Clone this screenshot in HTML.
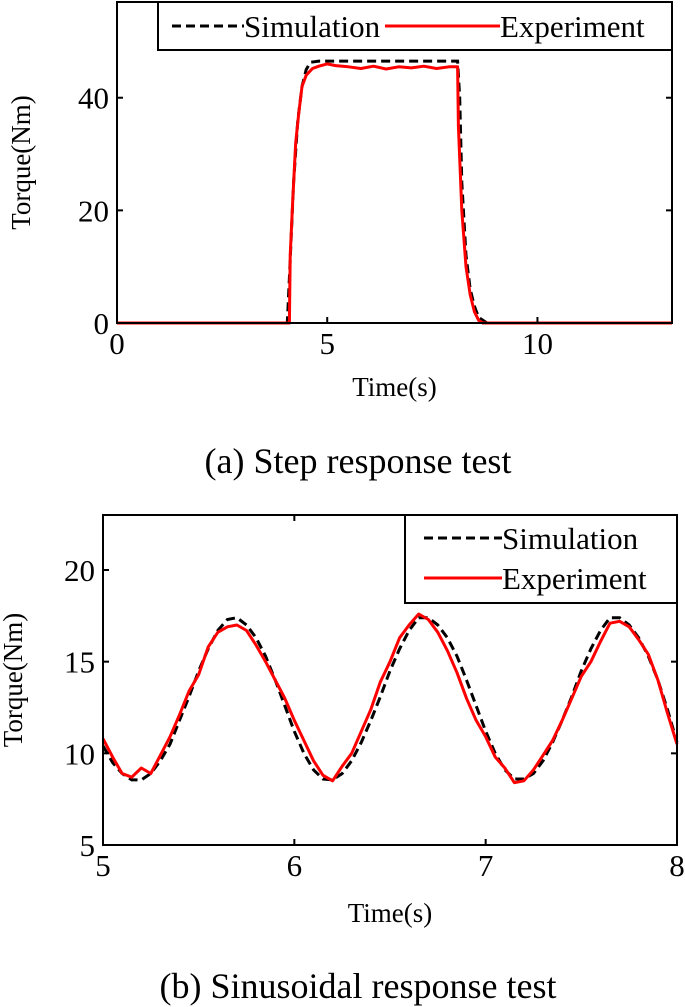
<!DOCTYPE html>
<html><head><meta charset="utf-8">
<style>
html,body{margin:0;padding:0;background:#fff;}
svg{display:block;font-family:"Liberation Serif",serif;}
</style></head>
<body>
<svg id="fig" width="685" height="1007" viewBox="0 0 685 1007">
<g id="top"></g>
<g id="bot"></g>
<text x="358" y="473" font-size="36" text-anchor="middle">(a) Step response test</text>
<text x="358" y="998" font-size="36" text-anchor="middle">(b) Sinusoidal response test</text>
</svg>
<script>
// Step response data
const stepSimT = [0,4.05,4.1,4.2,4.3,4.4,4.5,4.6,4.8,8.0,8.1,8.15,8.2,8.3,8.4,8.5,8.6,8.8,13.2];
const stepSimV = [0,0,8,25,36,42,45,46.3,46.5,46.5,46.5,40,25,12,6,3,1,0,0];
const stepExpT = [0,4.1,4.12,4.18,4.25,4.32,4.4,4.5,4.65,4.8,5.0,5.2,5.5,5.8,6.1,6.4,6.7,7.0,7.3,7.6,7.9,8.1,8.12,8.2,8.3,8.4,8.5,8.6,8.7,13.2];
const stepExpV = [0,0,12,22,32,37,42,44,45.2,45.6,46,45.7,45.5,45.2,45.6,45.1,45.5,45.3,45.6,45.2,45.5,45.5,35,20,10,5,2,0.5,0,0];
const stepXTicks = [0,5,10];
const stepYTicks = [0,20,40];
// Sinusoidal data
const sinT = [5.00,5.05,5.10,5.15,5.20,5.25,5.30,5.35,5.40,5.45,5.50,5.55,5.60,5.65,5.70,5.75,5.80,5.85,5.90,5.95,6.00,6.05,6.10,6.15,6.20,6.25,6.30,6.35,6.40,6.45,6.50,6.55,6.60,6.65,6.70,6.75,6.80,6.85,6.90,6.95,7.00,7.05,7.10,7.15,7.20,7.25,7.30,7.35,7.40,7.45,7.50,7.55,7.60,7.65,7.70,7.75,7.80,7.85,7.90,7.95,8.00];
const sinSim = [10.4,9.5,8.9,8.55,8.55,8.9,9.6,10.5,11.8,13.1,14.5,15.7,16.7,17.3,17.4,17.0,16.3,15.3,14.0,12.6,11.2,10.0,9.1,8.6,8.55,8.9,9.6,10.6,11.8,13.1,14.5,15.7,16.7,17.4,17.4,17.0,16.3,15.3,14.0,12.6,11.2,10.0,9.1,8.6,8.6,8.9,9.6,10.6,11.8,13.1,14.5,15.7,16.7,17.4,17.4,17.0,16.3,15.3,14.0,12.4,10.6];
const sinExp = [10.8,9.8,8.9,8.7,9.2,8.9,9.9,10.9,12.1,13.4,14.3,15.8,16.6,16.9,17.0,16.7,15.9,15.0,14.0,13.0,11.8,10.7,9.6,8.8,8.5,9.3,10.0,11.2,12.4,13.9,15.0,16.3,17.0,17.6,17.3,16.6,15.6,14.4,13.0,11.8,10.9,9.8,9.2,8.4,8.5,9.1,9.9,10.7,11.8,13.0,14.2,15.0,16.1,17.1,17.2,16.9,16.2,15.4,14.0,12.2,10.5];
const sinXTicks = [5,6,7,8];
const sinYTicks = [5,10,15,20];

const NS='http://www.w3.org/2000/svg';
function mk(parent,tag,attrs,text){const e=document.createElementNS(NS,tag);for(const k in attrs)e.setAttribute(k,attrs[k]);if(text!==undefined)e.textContent=text;parent.appendChild(e);return e;}

function chart(g,o){
  const sx=v=>o.l+(v-o.x0)/(o.x1-o.x0)*(o.r-o.l);
  const sy=v=>o.b-(v-o.y0)/(o.y1-o.y0)*(o.b-o.t);
  const pts=(T,V)=>T.map((t,i)=>sx(t).toFixed(1)+','+sy(V[i]).toFixed(1)).join(' ');
  const sim=mk(g,'polyline',{points:pts(o.simT,o.simV),fill:'none',stroke:'#000','stroke-width':3,'stroke-dasharray':'9,5'});
  
  
  const ex=mk(g,'polyline',{points:pts(o.expT,o.expV),fill:'none',stroke:'#f00','stroke-width':3,'stroke-linejoin':'round'});
  
  
  const box=mk(g,'rect',{x:o.l,y:o.t,width:o.r-o.l,height:o.b-o.t,fill:'none',stroke:'#000','stroke-width':2});
  
  
  o.xt.forEach(v=>{
    mk(g,'line',{x1:sx(v),x2:sx(v),y1:o.b,y2:o.b-6,stroke:'#000','stroke-width':2});
    mk(g,'line',{x1:sx(v),x2:sx(v),y1:o.t,y2:o.t+6,stroke:'#000','stroke-width':2});
    const t=mk(g,'text',{x:sx(v),y:o.b+31,'font-size':31,'text-anchor':'middle'},String(v));
    
    
  });
  o.yt.forEach(v=>{
    mk(g,'line',{x1:o.l,x2:o.l+6,y1:sy(v),y2:sy(v),stroke:'#000','stroke-width':2});
    mk(g,'line',{x1:o.r,x2:o.r-6,y1:sy(v),y2:sy(v),stroke:'#000','stroke-width':2});
    const t=mk(g,'text',{x:o.l-8,y:sy(v)+11,'font-size':31,'text-anchor':'end'},String(v));
    
    
  });
  const xl=mk(g,'text',{x:(o.l+o.r)/2,y:o.xly,'font-size':27,'text-anchor':'middle'},'Time(s)');
  
  
  const yl=mk(g,'text',{x:0,y:0,'font-size':27,'text-anchor':'middle',transform:`translate(${o.ylx},${(o.t+o.b)/2}) rotate(-90)`},'Torque(Nm)');
  
  
  const L=o.leg;
  const lg=mk(g,'g',{});
  
  
  mk(lg,'rect',{x:L.x,y:L.y,width:L.w,height:L.h,fill:'#fff',stroke:'#000','stroke-width':2});
  L.items.forEach(it=>{
    const e=mk(lg,'g',{});
    
    
    mk(e,'line',{x1:it.x,x2:it.x+it.ll,y1:it.y,y2:it.y,stroke:it.c,'stroke-width':3,'stroke-dasharray':it.d||'none'});
    mk(e,'text',{x:it.x+it.ll,y:it.y+11,'font-size':31},it.t);
  });
}

chart(document.getElementById('top'),{l:117,r:672,t:2,b:323,x0:0,x1:13.2,y0:0,y1:57,
  simT:stepSimT,simV:stepSimV,expT:stepExpT,expV:stepExpV,xt:stepXTicks,yt:stepYTicks,xly:396,ylx:30,
  leg:{x:158,y:2,w:514,h:48,items:[{x:172,y:26,ll:72,c:'#000',d:'9,5',t:'Simulation'},{x:385,y:26,ll:115,c:'#f00',t:'Experiment'}]}});
chart(document.getElementById('bot'),{l:103,r:677,t:515,b:845,x0:5,x1:8,y0:5,y1:23,
  simT:sinT,simV:sinSim,expT:sinT,expV:sinExp,xt:sinXTicks,yt:sinYTicks,xly:922,ylx:22,
  leg:{x:405,y:515,w:272,h:88,items:[{x:424,y:538,ll:78,c:'#000',d:'9,5',t:'Simulation'},{x:424,y:578,ll:78,c:'#f00',t:'Experiment'}]}});
</script>
</body></html>
